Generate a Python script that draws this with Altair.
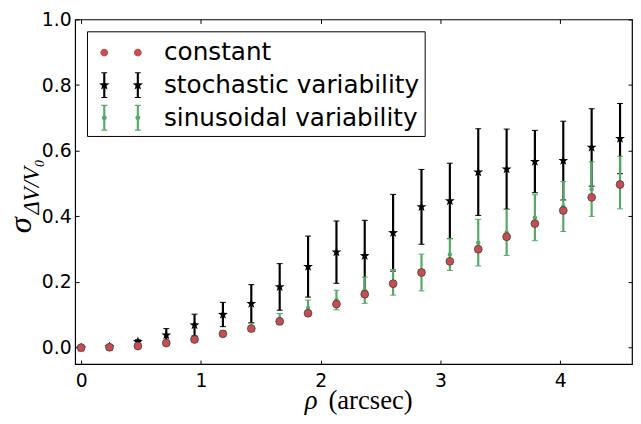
import altair as alt
import pandas as pd

# ---- data ----
rho = [0.0, 0.237, 0.474, 0.711, 0.947, 1.184, 1.421, 1.658, 1.895, 2.132,
       2.368, 2.605, 2.842, 3.079, 3.316, 3.553, 3.789, 4.026, 4.263, 4.5]
constant = [0.000, 0.001, 0.005, 0.014, 0.025, 0.042, 0.058, 0.080, 0.105, 0.133,
            0.163, 0.195, 0.229, 0.263, 0.300, 0.338, 0.378, 0.418, 0.458, 0.497]
stochastic = [0.000, 0.003, 0.018, 0.038, 0.069, 0.101, 0.134, 0.185, 0.247, 0.291,
              0.280, 0.350, 0.429, 0.447, 0.535, 0.544, 0.567, 0.570, 0.610, 0.637]
stochastic_err = [0.000, 0.002, 0.006, 0.020, 0.033, 0.037, 0.058, 0.071, 0.093, 0.095,
                  0.108, 0.117, 0.114, 0.115, 0.132, 0.122, 0.095, 0.120, 0.118, 0.107]
sinusoidal = [0.000, 0.001, 0.006, 0.015, 0.028, 0.044, 0.062, 0.088, 0.121, 0.145,
              0.175, 0.199, 0.229, 0.284, 0.320, 0.351, 0.396, 0.430, 0.483, 0.503]
sinusoidal_err = [0.000, 0.001, 0.002, 0.004, 0.006, 0.008, 0.012, 0.016, 0.024, 0.030,
                  0.040, 0.039, 0.056, 0.049, 0.071, 0.070, 0.070, 0.076, 0.083, 0.080]
series_names = ["constant", "stochastic variability", "sinusoidal variability"]
x_ticks = [0, 1, 2, 3, 4]
y_ticks = [0.0, 0.2, 0.4, 0.6, 0.8, 1.0]

RED = "#c44e52"
GREEN = "#55a868"
BLACK = "black"

df = pd.DataFrame({
    "rho": rho,
    "const": constant,
    "st": stochastic,
    "st_lo": [m - e for m, e in zip(stochastic, stochastic_err)],
    "st_hi": [m + e for m, e in zip(stochastic, stochastic_err)],
    "si": sinusoidal,
    "si_lo": [m - e for m, e in zip(sinusoidal, sinusoidal_err)],
    "si_hi": [m + e for m, e in zip(sinusoidal, sinusoidal_err)],
})

# ---- symbol paths ----
def star(cx=0.0, cy=0.0, R=1.0, r=0.4):
    import math
    pts = []
    for k in range(10):
        ang = math.radians(-90 + 36 * k)
        rad = R if k % 2 == 0 else r
        pts.append((cx + rad * math.cos(ang), cy + rad * math.sin(ang)))
    return "M" + "L".join(f"{x:.3f},{y:.3f}" for x, y in pts) + "Z"

def rect(cx, cy, hw, hh):
    return (f"M{cx-hw:.3f},{cy-hh:.3f}H{cx+hw:.3f}V{cy+hh:.3f}"
            f"H{cx-hw:.3f}Z")

def circ(cx, cy, r):
    return (f"M{cx-r:.3f},{cy:.3f}A{r:.3f},{r:.3f},0,1,1,{cx+r:.3f},{cy:.3f}"
            f"A{r:.3f},{r:.3f},0,1,1,{cx-r:.3f},{cy:.3f}Z")

STAR = star()
CAP = "M-1,0L1,0"

def errbar(cx, inner):
    return (rect(cx, 0, 0.065, 0.76) + rect(cx, -0.76, 0.18, 0.035) +
            rect(cx, 0.76, 0.18, 0.035) + inner)

leg_const = circ(-1.03, 0, 0.24) + circ(1.03, 0, 0.24)
leg_stoch = errbar(-1.03, star(-1.03, 0, 0.34, 0.14)) + errbar(1.03, star(1.03, 0, 0.34, 0.14))
leg_sinus = errbar(-1.03, circ(-1.03, 0, 0.15)) + errbar(1.03, circ(1.03, 0, 0.15))

# ---- scales ----
xs = alt.Scale(domain=[-0.05, 4.6], nice=False, zero=False)
ys = alt.Scale(domain=[-0.05, 1.0], nice=False, zero=False)

common_axis = dict(grid=False, domain=False, tickColor=BLACK, tickSize=4,
                   offset=-4, tickWidth=1)

x_main = alt.Axis(orient="bottom", values=x_ticks, format="d", labelPadding=8,
                  labelFont="DejaVu Sans", labelFontSize=19, labelColor=BLACK,
                  title="(arcsec)", titleFont="Liberation Serif", titleFontSize=27,
                  titleFontWeight="normal", titleColor=BLACK, titleAlign="left",
                  titleBaseline="alphabetic", titleX=256, titleY=49, titleAngle=0,
                  **common_axis)
y_main = alt.Axis(orient="left", values=y_ticks, format=".1f", labelPadding=4,
                  labelFont="DejaVu Sans", labelFontSize=19, labelColor=BLACK,
                  title="σ", titleFont="Liberation Serif", titleFontSize=33,
                  titleFontStyle="italic", titleFontWeight="normal", titleColor=BLACK,
                  titleAlign="left", titleBaseline="alphabetic", titleAngle=270,
                  titleX=-49, titleY=216, **common_axis)
x_top = alt.Axis(orient="top", values=x_ticks, labels=False, title=None, **common_axis)
y_right = alt.Axis(orient="right", values=y_ticks, labels=False, title=None, **common_axis)
x_sub = alt.Axis(orient="bottom", labels=False, ticks=False, domain=False, grid=False,
                 offset=-4, title="ρ", titleFont="Liberation Serif", titleFontSize=27,
                 titleFontStyle="italic", titleFontWeight="normal", titleColor=BLACK,
                 titleAlign="left", titleBaseline="alphabetic", titleX=232, titleY=49,
                 titleAngle=0)
y_sub = alt.Axis(orient="left", labels=False, ticks=False, domain=False, grid=False,
                 offset=-4, title="ΔV/V₀", titleFont="Liberation Serif", titleFontSize=23,
                 titleFontStyle="italic", titleFontWeight="normal", titleColor=BLACK,
                 titleAlign="left", titleBaseline="alphabetic", titleAngle=270,
                 titleX=-41, titleY=197)

base = alt.Chart(df)
X = lambda ax=None: alt.X("rho:Q", scale=xs, axis=ax)

black_rules = base.mark_rule(color=BLACK, strokeWidth=2.2).encode(
    x=X(x_main), y=alt.Y("st_lo:Q", scale=ys, axis=y_main), y2="st_hi:Q")
black_cap_lo = base.mark_point(shape=CAP, size=36, strokeWidth=1, color=BLACK,
                               opacity=1, filled=False).encode(
    x=X(x_top), y=alt.Y("st_lo:Q", scale=ys, axis=y_right))
black_cap_hi = base.mark_point(shape=CAP, size=36, strokeWidth=1, color=BLACK,
                               opacity=1, filled=False).encode(
    x=X(), y=alt.Y("st_hi:Q", scale=ys, axis=None))
black_stars = base.mark_point(shape=STAR, size=110, filled=True, color=BLACK,
                              opacity=1, strokeWidth=0).encode(
    x=X(), y=alt.Y("st:Q", scale=ys, axis=None))

green_rules = base.mark_rule(color=GREEN, strokeWidth=2.2).encode(
    x=X(x_sub), y=alt.Y("si_lo:Q", scale=ys, axis=y_sub), y2="si_hi:Q")
green_cap_lo = base.mark_point(shape=CAP, size=36, strokeWidth=1, color=GREEN,
                               opacity=1, filled=False).encode(
    x=X(), y=alt.Y("si_lo:Q", scale=ys, axis=None))
green_cap_hi = base.mark_point(shape=CAP, size=36, strokeWidth=1, color=GREEN,
                               opacity=1, filled=False).encode(
    x=X(), y=alt.Y("si_hi:Q", scale=ys, axis=None))
green_dots = base.mark_point(shape="circle", size=20, filled=True, color=GREEN,
                             opacity=1, strokeWidth=0).encode(
    x=X(), y=alt.Y("si:Q", scale=ys, axis=None))

red_points = base.mark_point(shape="circle", size=64, filled=True, fill=RED,
                             stroke="#2a2a2a", strokeWidth=0.6, opacity=1).encode(
    x=X(), y=alt.Y("const:Q", scale=ys, axis=None))

legend_df = pd.DataFrame({"series": series_names, "rho": [0, 0, 0], "v": [0, 0, 0]})
legend_layer = alt.Chart(legend_df).transform_filter("false").mark_point(
    filled=True, size=1089, opacity=1, strokeWidth=0).encode(
    x=alt.X("rho:Q", scale=xs, axis=None),
    y=alt.Y("v:Q", scale=ys, axis=None),
    color=alt.Color("series:N", scale=alt.Scale(domain=series_names,
                                                range=[RED, BLACK, GREEN]),
                    legend=alt.Legend(title=None, orient="none", legendX=12, legendY=12,
                                      padding=5, symbolOffset=13, labelOffset=27,
                                      symbolSize=1089,
                                      labelFont="DejaVu Sans", labelFontSize=25,
                                      labelColor=BLACK, strokeColor=BLACK,
                                      fillColor="white", rowPadding=3,
                                      symbolStrokeWidth=0, labelLimit=500,
                                      cornerRadius=0)),
    shape=alt.Shape("series:N", scale=alt.Scale(domain=series_names,
                                                range=[leg_const, leg_stoch, leg_sinus]),
                    legend=None),
)

chart = alt.layer(
    black_rules, black_cap_lo, black_cap_hi, black_stars,
    green_rules, green_cap_lo, green_cap_hi, green_dots,
    red_points, legend_layer,
).resolve_axis(x="independent", y="independent").properties(
    width=564, height=349,
    autosize=alt.AutoSizeParams(type="none"),
    padding={"left": 68, "top": 9, "right": 1, "bottom": 50},
    background="white",
).configure_view(stroke=BLACK, strokeWidth=1.2)

chart.save("out.html", embed_options={"renderer": "svg", "actions": False})
